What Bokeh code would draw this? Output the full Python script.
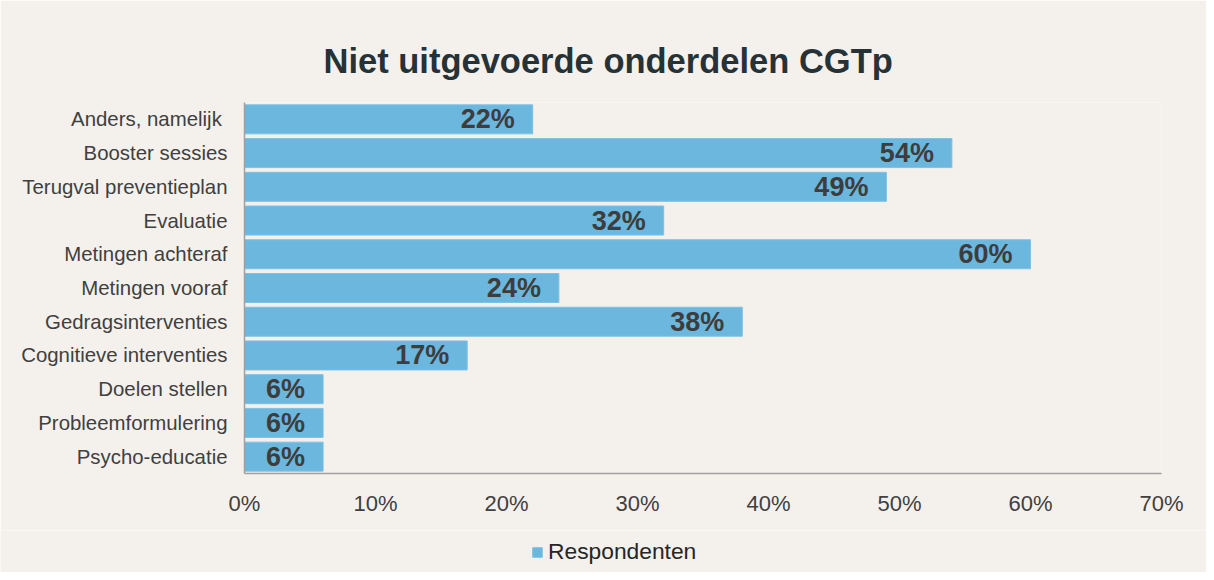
from bokeh.plotting import figure
from bokeh.layouts import column
from bokeh.models import (FactorRange, Range1d, FixedTicker, PrintfTickFormatter,
                          ColumnDataSource, Legend, LegendItem)
from bokeh.core.properties import value
from bokeh.embed import file_html
from bokeh.resources import INLINE

categories = ["Psycho-educatie", "Probleemformulering", "Doelen stellen",
              "Cognitieve interventies", "Gedragsinterventies", "Metingen vooraf",
              "Metingen achteraf", "Evaluatie", "Terugval preventieplan",
              "Booster sessies", "Anders, namelijk "]
respondenten = [6, 6, 6, 17, 38, 24, 60, 32, 49, 54, 22]
x_ticks = [0, 10, 20, 30, 40, 50, 60, 70]
series_name = "Respondenten"
title_text = "Niet uitgevoerde onderdelen CGTp"

FONT = "Liberation Sans"
BG = "#f4f1ed"
BAR = "#6bb7de"
BAR_LINE = "#7ec1e4"

src = ColumnDataSource(dict(
    cat=categories,
    val=respondenten,
    lbl=[f"{v}%" for v in respondenten],
))

p = figure(width=1206, height=530, output_backend="svg", toolbar_location=None,
           y_range=FactorRange(*categories, range_padding=0),
           x_range=Range1d(0, 70),
           min_border_left=244, min_border_right=45,
           min_border_top=102, min_border_bottom=57,
           background_fill_color=BG, border_fill_color=BG,
           outline_line_color=None)

p.title.text = title_text
p.title.align = "left"
p.title.offset = 79
p.title.text_font = FONT
p.title.text_font_size = "34.5px"
p.title.text_font_style = "bold"
p.title.text_color = "#263236"
p.title.standoff = 46

bars = p.hbar(y="cat", right="val", left=0, height=0.86, source=src,
              fill_color=BAR, line_color=BAR_LINE, line_width=1)

p.text(x="val", y="cat", text="lbl", source=src, x_offset=-18,
       text_align="right", text_baseline="middle",
       text_font=value(FONT), text_font_size="27px", text_font_style="bold",
       text_color="#3d3d3d")

p.xgrid.grid_line_color = None
p.ygrid.grid_line_color = None

xa = p.xaxis[0]
xa.ticker = FixedTicker(ticks=x_ticks)
xa.formatter = PrintfTickFormatter(format="%d%%")
xa.major_tick_line_color = None
xa.minor_tick_line_color = None
xa.axis_line_color = "#a0a0a0"
xa.axis_line_width = 1.5
xa.major_label_text_font = FONT
xa.major_label_text_font_size = "22px"
xa.major_label_text_color = "#404040"
xa.major_label_standoff = 11

ya = p.yaxis[0]
ya.major_tick_line_color = None
ya.minor_tick_line_color = None
ya.axis_line_color = "#a0a0a0"
ya.axis_line_width = 1.5
ya.major_label_text_font = FONT
ya.major_label_text_font_size = "20.4px"
ya.major_label_text_color = "#404040"
ya.major_label_standoff = 11

# legend strip below the chart
lf = figure(width=1206, height=42, output_backend="svg", toolbar_location=None,
            x_range=Range1d(0, 1), y_range=Range1d(0, 1),
            x_axis_type=None, y_axis_type=None,
            min_border=0, min_border_left=0, min_border_right=0,
            min_border_top=0, min_border_bottom=0,
            background_fill_color=BG, border_fill_color=BG,
            outline_line_color=None)
lf.frame_align = False
lf.xgrid.grid_line_color = None
lf.ygrid.grid_line_color = None
dummy = lf.hbar(y=[5], right=[5], left=4, height=0.5,
                fill_color=BAR, line_color=BAR_LINE, line_width=1)

legend = Legend(items=[LegendItem(label=series_name, renderers=[dummy])],
                location=(531, 7), orientation="horizontal",
                background_fill_alpha=0, border_line_color=None,
                padding=0, margin=0, spacing=0,
                glyph_width=12, glyph_height=12, label_standoff=5,
                label_text_font=FONT, label_text_font_size="22.8px",
                label_text_color="#262626")
lf.add_layout(legend)

layout = column(p, lf, spacing=0)
open("out.html", "w").write(file_html(layout, INLINE))
